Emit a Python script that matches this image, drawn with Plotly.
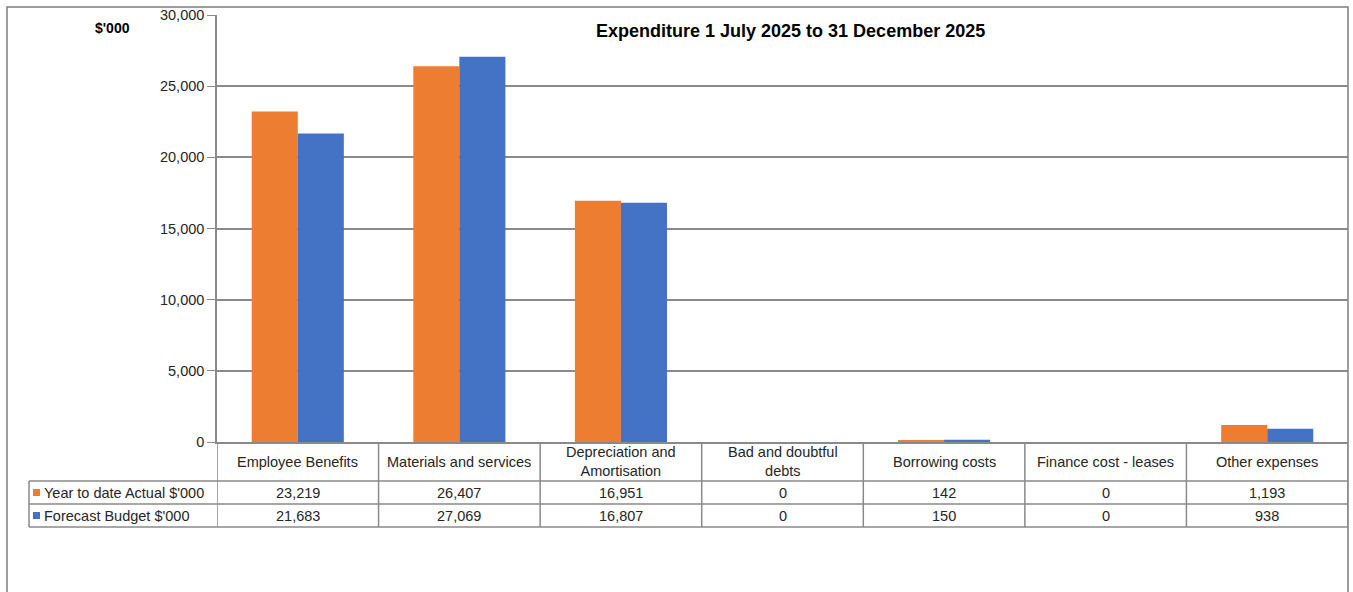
import plotly.graph_objects as go

categories = ["Employee Benefits", "Materials and services", "Depreciation and Amortisation",
              "Bad and doubtful debts", "Borrowing costs", "Finance cost - leases", "Other expenses"]
category_labels = ["Employee Benefits", "Materials and services", "Depreciation and<br>Amortisation",
                   "Bad and doubtful<br>debts", "Borrowing costs", "Finance cost - leases", "Other expenses"]
actual = [23219, 26407, 16951, 0, 142, 0, 1193]
budget = [21683, 27069, 16807, 0, 150, 0, 938]
series_names = ["Year to date Actual $'000", "Forecast Budget $'000"]
colors = ["#ED7D31", "#4472C4"]
y_ticks = [0, 5000, 10000, 15000, 20000, 25000, 30000]

W, H = 1353, 592
L, R, T, B = 217, 1348, 15, 442  # plot area pixel box


def px(x):
    return (x - L) / (R - L)


def py(y):
    return (B - y) / (B - T)


fig = go.Figure()
for name, vals, c in zip(series_names, [actual, budget], colors):
    fig.add_trace(go.Bar(x=categories, y=vals, name=name, marker=dict(color=c, line=dict(width=0))))

grid = "#8a8a8a"
txt = "#262626"
font = "Liberation Sans, Arial, sans-serif"
fs = 14.5

shapes = []
annotations = []
# outer border
shapes.append(dict(type="rect", xref="paper", yref="paper", x0=px(7), x1=px(1348), y0=py(7), y1=py(620),
                   line=dict(color="#7f7f7f", width=1.5), layer="below"))
# table horizontal lines
row_y = [481, 504, 527]
for yy in row_y:
    shapes.append(dict(type="line", xref="paper", yref="paper", x0=px(29), x1=px(1348), y0=py(yy), y1=py(yy),
                       line=dict(color=grid, width=1.5)))
# table vertical lines at category boundaries
n = len(categories)
for i in range(n + 1):
    shapes.append(dict(type="line", xref="x", yref="paper", x0=i - 0.5, x1=i - 0.5, y0=py(442), y1=py(527),
                       line=dict(color=grid, width=1.5)))
shapes.append(dict(type="line", xref="paper", yref="paper", x0=px(29), x1=px(29), y0=py(481), y1=py(527),
                   line=dict(color=grid, width=1.5)))

# category header labels
for i, lab in enumerate(category_labels):
    annotations.append(dict(x=i, xref="x", y=py(461.5), yref="paper", text=lab, showarrow=False,
                            font=dict(family=font, size=fs, color=txt), xanchor="center", yanchor="middle"))
# value rows
for r, (vals, name, c) in enumerate(zip([actual, budget], series_names, colors)):
    yc = (row_y[r] + row_y[r + 1]) / 2
    for i, v in enumerate(vals):
        annotations.append(dict(x=i, xref="x", y=py(yc), yref="paper", text=f"{v:,}", showarrow=False,
                                font=dict(family=font, size=fs, color=txt), xanchor="center", yanchor="middle"))
    shapes.append(dict(type="rect", xref="paper", yref="paper", x0=px(33), x1=px(40), y0=py(yc - 3.5),
                       y1=py(yc + 3.5), fillcolor=c, line=dict(width=0)))
    annotations.append(dict(x=px(42), xref="paper", y=py(yc), yref="paper", text=name, showarrow=False,
                            font=dict(family=font, size=fs, color=txt), xanchor="left", yanchor="middle"))

# title and unit
annotations.append(dict(x=px(790), xref="paper", y=py(31), yref="paper",
                        text="<b>Expenditure 1 July 2025 to 31 December 2025</b>", showarrow=False,
                        font=dict(family=font, size=18, color="#000000"), xanchor="center", yanchor="middle"))
annotations.append(dict(x=px(112), xref="paper", y=py(28), yref="paper", text="<b>$'000</b>", showarrow=False,
                        font=dict(family=font, size=14, color="#000000"), xanchor="center", yanchor="middle"))

fig.update_layout(
    width=W, height=H,
    margin=dict(l=L, r=W - R, t=T, b=H - B),
    paper_bgcolor="white", plot_bgcolor="white",
    barmode="group", bargap=0.43, bargroupgap=0,
    showlegend=False,
    shapes=shapes, annotations=annotations,
    xaxis=dict(showticklabels=False, showgrid=False, showline=True, linecolor=grid, linewidth=1.5,
               range=[-0.5, n - 0.5], fixedrange=True, mirror=False),
    yaxis=dict(range=[0, 30000], tickvals=y_ticks, tickformat=",", showgrid=True, gridcolor=grid, gridwidth=1.5,
               showline=True, linecolor=grid, linewidth=1.5, ticks="outside", ticklen=8, tickcolor=grid,
               tickfont=dict(family=font, size=fs, color=txt), zeroline=False, fixedrange=True),
)

fig.write_html("out.html")
